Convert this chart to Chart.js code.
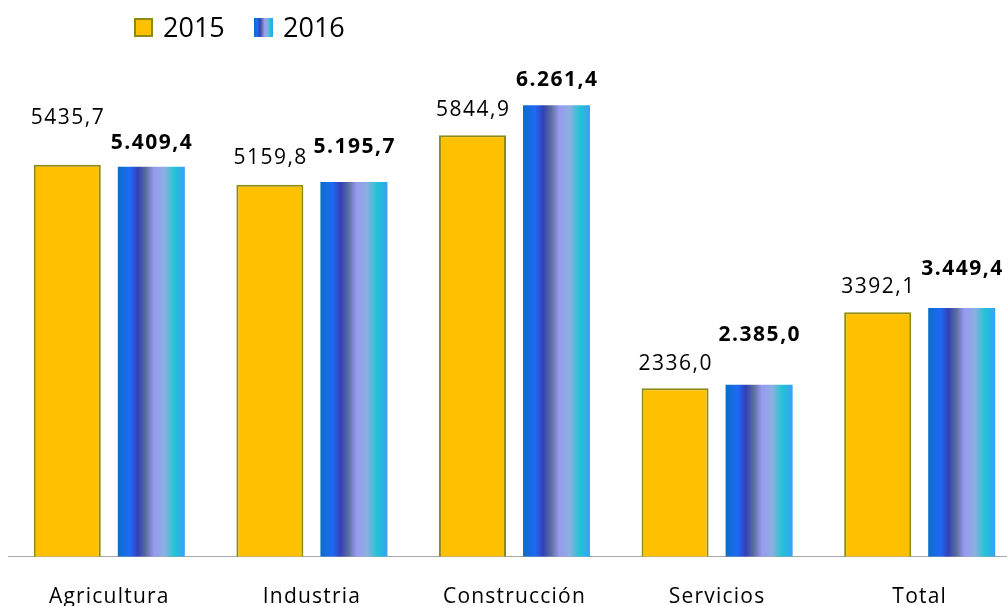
<!DOCTYPE html>
<html>
<head>
<meta charset="utf-8">
<script src="https://cdn.jsdelivr.net/npm/chart.js@4.4.1/dist/chart.umd.min.js"></script>
<style>
html,body{margin:0;padding:0;overflow:hidden;background:#fff;width:1007px;height:606px;}
#wrap{position:relative;width:1007px;height:606px;overflow:hidden;}
#c{position:absolute;left:0;top:0;}
.lg-box{position:absolute;top:18px;width:19px;height:19px;box-sizing:border-box;}
.lg-txt{position:absolute;top:13px;font-family:"Open Sans",sans-serif;font-size:27px;line-height:27px;color:#000;}
</style>
</head>
<body>
<div id="wrap">
  <canvas id="c" width="1021" height="638"></canvas>
  <div class="lg-box" style="left:134px;background:#FFC000;border:2px solid #8C8C14;"></div>
  <div class="lg-txt" style="left:163px;">2015</div>
  <div class="lg-box" style="left:254px;background:linear-gradient(to right,#0A6EC8 0%,#1E6AF5 18%,#3340B8 30%,#5A6E9E 42%,#9999F0 54%,#8AB0E0 70%,#20C4D4 85%,#38A0F8 100%);"></div>
  <div class="lg-txt" style="left:283px;">2016</div>
</div>
<script>
const categories = ["Agricultura", "Industria", "Construcción", "Servicios", "Total"];
const seriesNames = ["2015", "2016"];
const values2015 = [5435.7, 5159.8, 5844.9, 2336.0, 3392.1];
const values2016 = [5409.4, 5195.7, 6261.4, 2385.0, 3449.4];

// label vertical offsets above bar top (placement styling)
const labelLift = [[47, 27, 25, 24, 25], [24, 35, 25, 50, 39]];

const CAT_PCT = 0.8296, BAR_PCT = 0.7976;
const gradStops = [[0,'#0A6EC8'],[0.18,'#1E6AF5'],[0.30,'#3340B8'],[0.42,'#5A6E9E'],[0.54,'#9999F0'],[0.70,'#8AB0E0'],[0.85,'#20C4D4'],[1,'#38A0F8']];

function fmt2015(v){ return v.toFixed(1).replace('.', ','); }
function fmt2016(v){
  const parts = v.toFixed(1).split('.');
  const intp = parts[0].replace(/\B(?=(\d{3})+(?!\d))/g, '.');
  return intp + ',' + parts[1];
}

function barGradient(ctx){
  const chart = ctx.chart;
  const xs = chart.scales && chart.scales.x;
  if (!xs || !chart.chartArea || ctx.dataIndex === undefined) return '#1E6AF5';
  const n = categories.length;
  const catW = (xs.right - xs.left) / n;
  const slot = catW * CAT_PCT / 2;
  const bw = slot * BAR_PCT;
  const center = xs.getPixelForValue(ctx.dataIndex) + slot / 2;
  const g = chart.ctx.createLinearGradient(center - bw/2, 0, center + bw/2, 0);
  gradStops.forEach(s => g.addColorStop(s[0], s[1]));
  return g;
}

const labelPlugin = {
  id: 'valueLabels',
  beforeDraw(chart){ chart.ctx.letterSpacing = '1.2px'; },
  afterDatasetsDraw(chart){
    const ctx = chart.ctx;
    ctx.save();
    ctx.letterSpacing = '1.5px';
    ctx.textAlign = 'center';
    ctx.textBaseline = 'middle';
    ctx.fillStyle = '#000';
    chart.data.datasets.forEach((ds, di) => {
      const meta = chart.getDatasetMeta(di);
      ctx.font = (di === 1 ? 'bold ' : '') + '21px "Open Sans", sans-serif';
      meta.data.forEach((el, i) => {
        const txt = di === 0 ? fmt2015(ds.data[i]) : fmt2016(ds.data[i]);
        ctx.fillText(txt, el.x + 0.75, el.y - labelLift[di][i]);
      });
    });
    ctx.restore();
  }
};

new Chart(document.getElementById('c'), {
  type: 'bar',
  data: {
    labels: categories,
    datasets: [
      { label: seriesNames[0], data: values2015, backgroundColor: '#FFC000', borderColor: '#8C8C14', borderWidth: 2,
        categoryPercentage: CAT_PCT, barPercentage: BAR_PCT },
      { label: seriesNames[1], data: values2016, backgroundColor: barGradient, borderWidth: 0,
        categoryPercentage: CAT_PCT, barPercentage: BAR_PCT }
    ]
  },
  options: {
    responsive: false,
    animation: false,
    devicePixelRatio: 1,
    layout: { padding: { left: 8, right: 0, top: 52, bottom: 0 } },
    plugins: { legend: { display: false }, tooltip: { enabled: false } },
    scales: {
      x: {
        grid: { display: false, drawTicks: false },
        border: { display: true, color: '#A6A6A6', width: 1 },
        ticks: { color: '#000', padding: 28, font: { family: '"Open Sans", sans-serif', size: 21 }, maxRotation: 0, autoSkip: false }
      },
      y: { display: false, min: 0, max: 7000 }
    }
  },
  plugins: [labelPlugin]
});
</script>
</body>
</html>
